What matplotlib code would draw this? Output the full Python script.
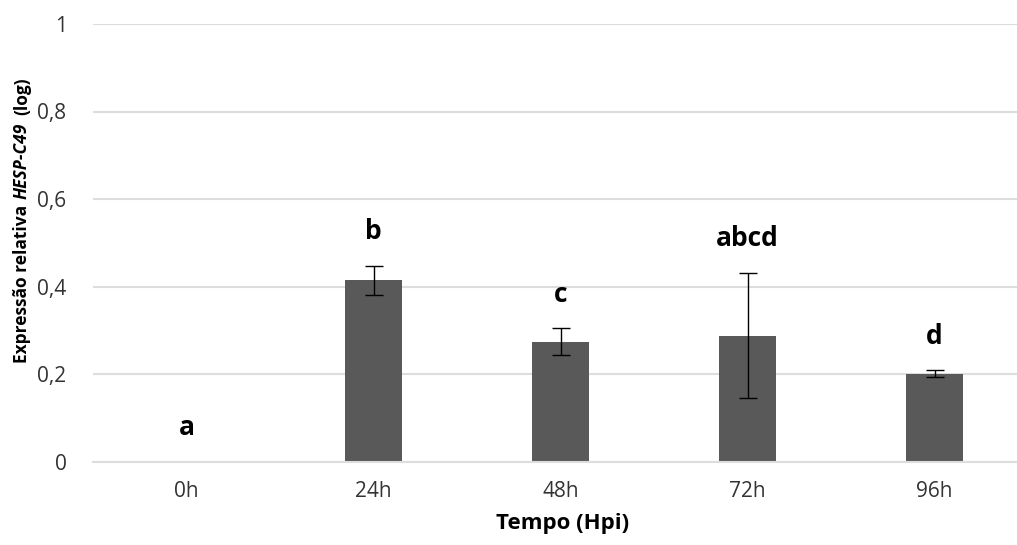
import matplotlib
matplotlib.use("Agg")
import matplotlib.pyplot as plt
from matplotlib.ticker import FuncFormatter

plt.rcParams["font.family"] = ["Open Sans", "DejaVu Sans"]

# relative expression of HESP-C49 per time point
tempos = ["0h", "24h", "48h", "72h", "96h"]
expressao = [0.0, 0.414, 0.274, 0.288, 0.201]
erro = [0.0, 0.034, 0.031, 0.143, 0.008]
letras = ["a", "b", "c", "abcd", "d"]
y_ticks = [0, 0.2, 0.4, 0.6, 0.8, 1.0]

fig = plt.figure(figsize=(10.17, 5.45), dpi=100)
ax = fig.add_axes([93 / 1017, 1 - 461.5 / 545, 935 / 1017, 437.5 / 545])

x = range(len(tempos))
ax.bar(x, expressao, width=0.31, color="#595959", zorder=2)
ax.errorbar(x[1:], expressao[1:], yerr=erro[1:], fmt="none", ecolor="black",
            elinewidth=1, capsize=6.5, capthick=1, zorder=3)

for xi, v, e, lab in zip(x, expressao, erro, letras):
    ax.annotate(lab, (xi, v + e), xytext=(0, 24.5), textcoords="offset points",
                ha="center", va="center", fontsize=19, fontweight="bold")

ax.set_xlim(-0.5, len(tempos) - 0.5)
ax.set_ylim(0, 1)
ax.set_yticks(y_ticks)
ax.yaxis.set_major_formatter(FuncFormatter(lambda v, _: f"{v:g}".replace(".", ",")))
ax.set_xticks(list(x))
ax.set_xticklabels(tempos)
ax.tick_params(axis="both", length=0, labelsize=15, colors="#333333")
ax.tick_params(axis="y", pad=19)
ax.tick_params(axis="x", pad=14)
ax.grid(axis="y", color="#dddddd", linewidth=1.5, zorder=0)
for side in ["top", "right", "left"]:
    ax.spines[side].set_visible(False)
ax.spines["bottom"].set_color("#dddddd")
ax.spines["bottom"].set_linewidth(1.5)

fig.text(563 / 1017, 1 - 523 / 545, "Tempo (Hpi)", ha="center", va="center",
         fontsize=16, fontweight="bold")

# y label with italic gene name, built from three rotated pieces
t1 = fig.text(22 / 1017, 1 - 363 / 545, "Expressão relativa", rotation=90,
              ha="center", va="bottom", fontsize=12.5, fontweight="bold")
t2 = ax.annotate("HESP-C49", xy=(0.5, 1), xycoords=t1, xytext=(0, 4),
                 textcoords="offset points", rotation=90, ha="center", va="bottom",
                 fontsize=12.5, fontweight="bold", style="italic")
ax.annotate("(log)", xy=(0.5, 1), xycoords=t2, xytext=(0, 6),
            textcoords="offset points", rotation=90, ha="center", va="bottom",
            fontsize=12.5, fontweight="bold")

fig.savefig("out.png", dpi=100)
